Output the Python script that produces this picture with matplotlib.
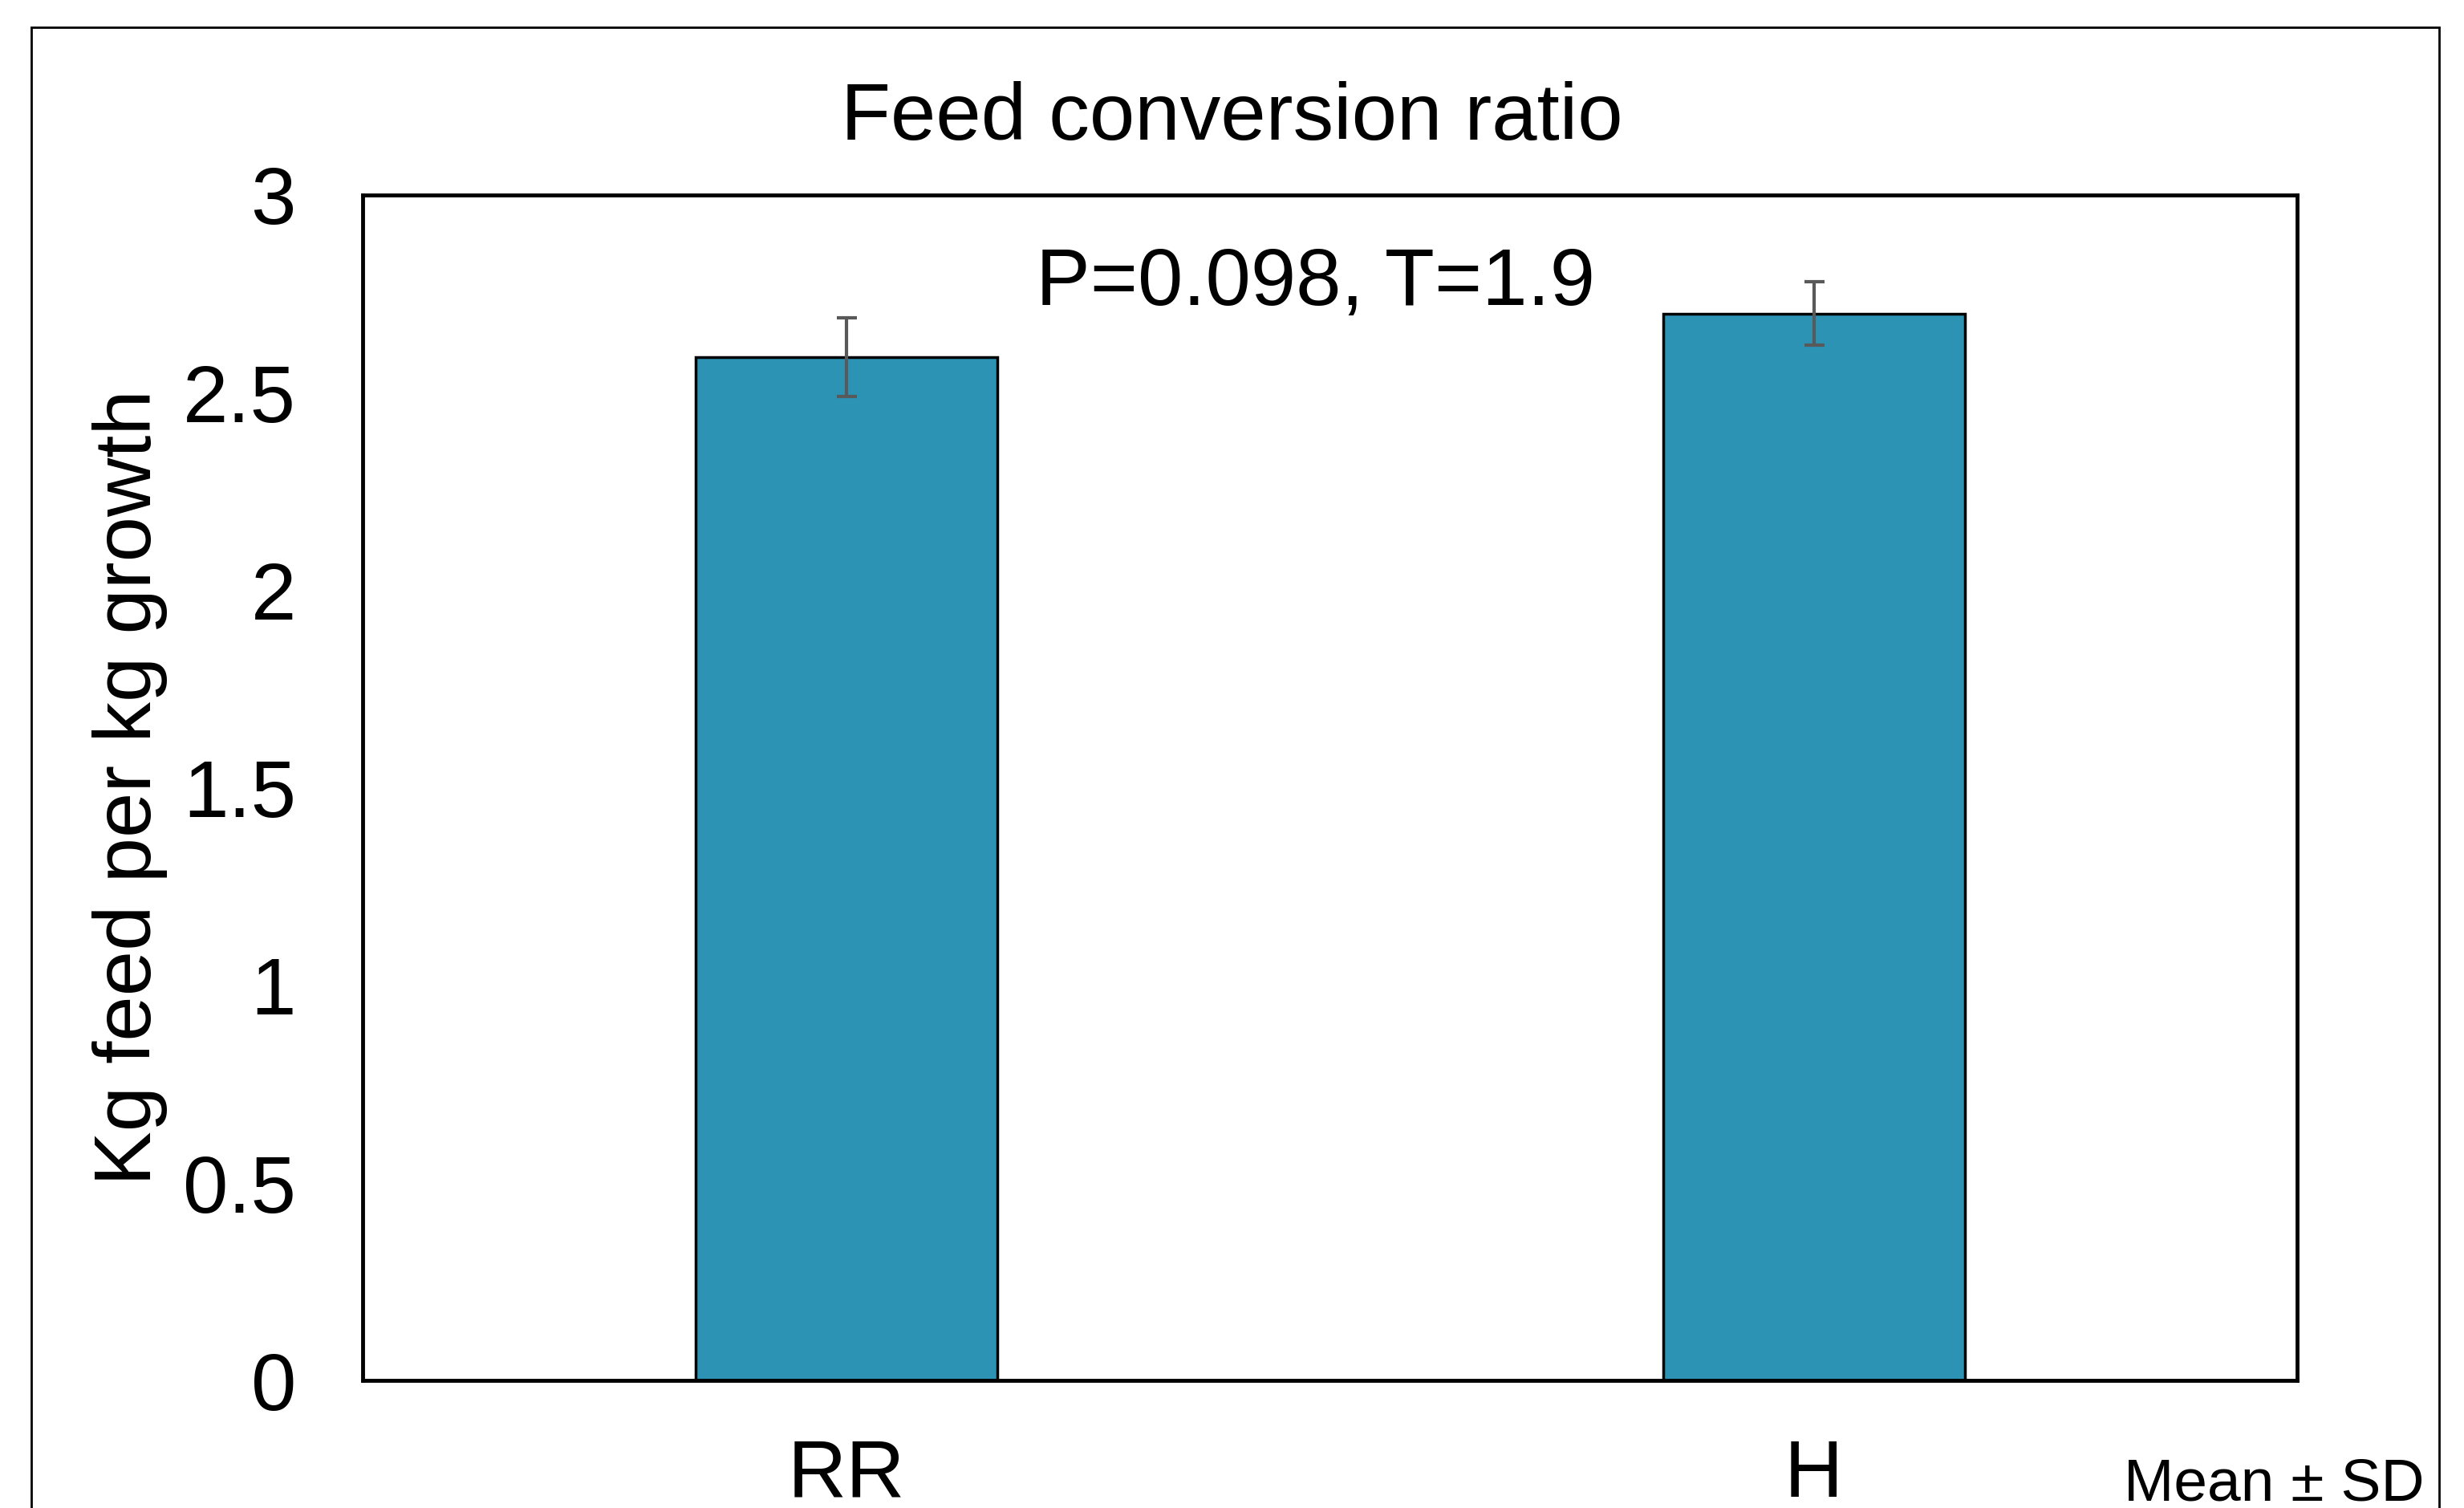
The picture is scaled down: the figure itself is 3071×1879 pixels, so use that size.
import matplotlib.pyplot as plt
from matplotlib.patches import Rectangle

# data
groups = ['RR', 'H']
fcr_mean = [2.59, 2.70]
fcr_sd = [0.10, 0.08]
stat_text = 'P=0.098, T=1.9'

plt.rcParams['font.family'] = ['Liberation Sans', 'DejaVu Sans']

fig = plt.figure(figsize=(30.71, 18.79), dpi=100)
ax = fig.add_axes([0.1473, 0.0845, 0.7851, 0.7862])

x = range(len(groups))
ax.bar(x, fcr_mean, width=0.312, color='#2C93B5', edgecolor='black', linewidth=2.5,
       yerr=fcr_sd, error_kw=dict(ecolor='#595959', elinewidth=3, capsize=9, capthick=3))

ax.set_xlim(-0.5, 1.5)
ax.set_ylim(0, 3)
ax.set_yticks([0, 0.5, 1, 1.5, 2, 2.5, 3])
ax.set_yticklabels(['0', '0.5', '1', '1.5', '2', '2.5', '3'])
ax.set_xticks(list(x))
ax.set_xticklabels(groups)
ax.tick_params(axis='both', length=0, labelsize=73)
ax.tick_params(axis='y', pad=60)
ax.tick_params(axis='x', pad=52)
for s in ax.spines.values():
    s.set_linewidth(3.5)
    s.set_color('black')

ax.set_ylabel('Kg feed per kg growth', fontsize=73)
ax.yaxis.set_label_coords(-0.101, 0.5)

ax.text(0.485, 2.775, stat_text, fontsize=73, ha='center', va='center')

fig.text(0.5, 0.921, 'Feed conversion ratio', fontsize=73, ha='center', va='center')
fig.text(0.984, 0.005, 'Mean \u00b1 SD', fontsize=54, ha='right', va='baseline')

# outer frame of the chart area
fig.patches.append(Rectangle((0.0128, -0.05), 0.977, 1.032, transform=fig.transFigure,
                             fill=False, edgecolor='black', linewidth=2))

fig.savefig('out.png', dpi=100)
